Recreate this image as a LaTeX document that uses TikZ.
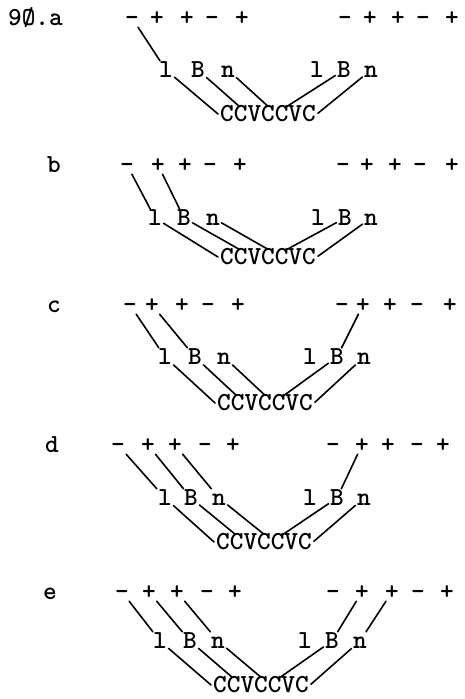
\documentclass[tikz,border=0pt]{standalone}
\usepackage{fontspec}
\usetikzlibrary{calc}
\newcommand\twfont{\ttfamily\bfseries\fontsize{26}{30}\selectfont}
\tikzset{
  tt/.style={font=\twfont, inner sep=1.5pt, text height=15pt, text depth=0pt},
  sg/.style={tt},
  lt/.style={tt},
  wd/.style={tt, inner sep=0pt},
  lab/.style={tt, inner sep=0pt},
  ln/.style={line width=1.6pt, line cap=round},
}
\newcommand\signrow[3]{%
  \foreach \xx/\ss [count=\ii] in {#3} \node[sg] (#1\ii) at (\xx,#2) {\ss};}
\newcommand\bottomlinks[1]{%
  \draw[ln] (#1-l) -- ([xshift=-2pt]#1-w.west);
  \draw[ln] (#1-B) -- ($(#1-w.north west)!0.2!(#1-w.north east)$);
  \draw[ln] (#1-n) -- ($(#1-w.north west)!0.5!(#1-w.north east)$);
  \draw[ln] (#1-BB) -- ($(#1-w.north west)!0.7!(#1-w.north east)$);
  \draw[ln] (#1-N) -- ([xshift=2pt]$(#1-w.north east)!0.45!(#1-w.south east)$);}
\begin{document}
\begin{tikzpicture}[x=1pt,y=-1pt]
\useasboundingbox (0,0) rectangle (465,699);
% ---------- row a
\node[lab,anchor=west] (a-lab) at (8,18) {9Ø.a};
\signrow{a-s}{18}{132/-,157/+,187/+,212/-,242/+}
\signrow{a-t}{18}{345/-,370/+,398/+,423/-,452/+}
\node[lt] (a-l) at (166,70) {l};
\node[lt] (a-B) at (198,70) {B};
\node[lt] (a-n) at (228,70) {n};
\node[lt] (a-L) at (317,70) {l};
\node[lt] (a-BB) at (344,70) {B};
\node[lt] (a-N) at (371,70) {n};
\node[wd] (a-w) at (268,114) {CCVCCVC};
\draw[ln] (a-s1) -- (a-l);
\bottomlinks{a}
% ---------- row b
\node[lab] (b-lab) at (54,165) {b};
\signrow{b-s}{165}{127/-,158/+,185/+,210/-,240/+}
\signrow{b-t}{165}{343/-,367/+,395/+,420/-,452/+}
\node[lt] (b-l) at (155,218) {l};
\node[lt] (b-B) at (184,218) {B};
\node[lt] (b-n) at (213,218) {n};
\node[lt] (b-L) at (318,218) {l};
\node[lt] (b-BB) at (345,218) {B};
\node[lt] (b-N) at (371,218) {n};
\node[wd] (b-w) at (268,257) {CCVCCVC};
\draw[ln] (b-s1) -- (b-l);
\draw[ln] (b-s2) -- (b-B);
\bottomlinks{b}
% ---------- row c
\node[lab] (c-lab) at (54,305) {c};
\signrow{c-s}{305}{130/-,152/+,182/+,208/-,238/+}
\signrow{c-t}{305}{342/-,363/+,390/+,417/-,450/+}
\node[lt] (c-l) at (165,357) {l};
\node[lt] (c-B) at (195,357) {B};
\node[lt] (c-n) at (224,357) {n};
\node[lt] (c-L) at (310,357) {l};
\node[lt] (c-BB) at (337,357) {B};
\node[lt] (c-N) at (364,357) {n};
\node[wd] (c-w) at (265,403) {CCVCCVC};
\draw[ln] (c-s1) -- (c-l);
\draw[ln] (c-s2) -- (c-B);
\draw[ln] (c-t2) -- (c-BB);
\bottomlinks{c}
% ---------- row d
\node[lab] (d-lab) at (52,445) {d};
\signrow{d-s}{445}{118/-,148/+,175/+,205/-,233/+}
\signrow{d-t}{445}{333/-,362/+,388/+,417/-,443/+}
\node[lt] (d-l) at (165,498) {l};
\node[lt] (d-B) at (191,498) {B};
\node[lt] (d-n) at (219,498) {n};
\node[lt] (d-L) at (310,498) {l};
\node[lt] (d-BB) at (337,498) {B};
\node[lt] (d-N) at (364,498) {n};
\node[wd] (d-w) at (264,542) {CCVCCVC};
\draw[ln] (d-s1) -- (d-l);
\draw[ln] (d-s2) -- (d-B);
\draw[ln] (d-s3) -- (d-n);
\draw[ln] (d-t2) -- (d-BB);
\bottomlinks{d}
% ---------- row e
\node[lab] (e-lab) at (50,592) {e};
\signrow{e-s}{592}{122/-,149/+,177/+,207/-,235/+}
\signrow{e-t}{592}{333/-,362/+,392/+,418/-,447/+}
\node[lt] (e-l) at (160,641) {l};
\node[lt] (e-B) at (190,641) {B};
\node[lt] (e-n) at (218,641) {n};
\node[lt] (e-L) at (305,641) {l};
\node[lt] (e-BB) at (332,641) {B};
\node[lt] (e-N) at (360,641) {n};
\node[wd] (e-w) at (261,685) {CCVCCVC};
\draw[ln] (e-s1) -- (e-l);
\draw[ln] (e-s2) -- (e-B);
\draw[ln] (e-s3) -- (e-n);
\draw[ln] (e-t2) -- (e-BB);
\draw[ln] (e-t3) -- (e-N);
\bottomlinks{e}
\end{tikzpicture}
\end{document}
